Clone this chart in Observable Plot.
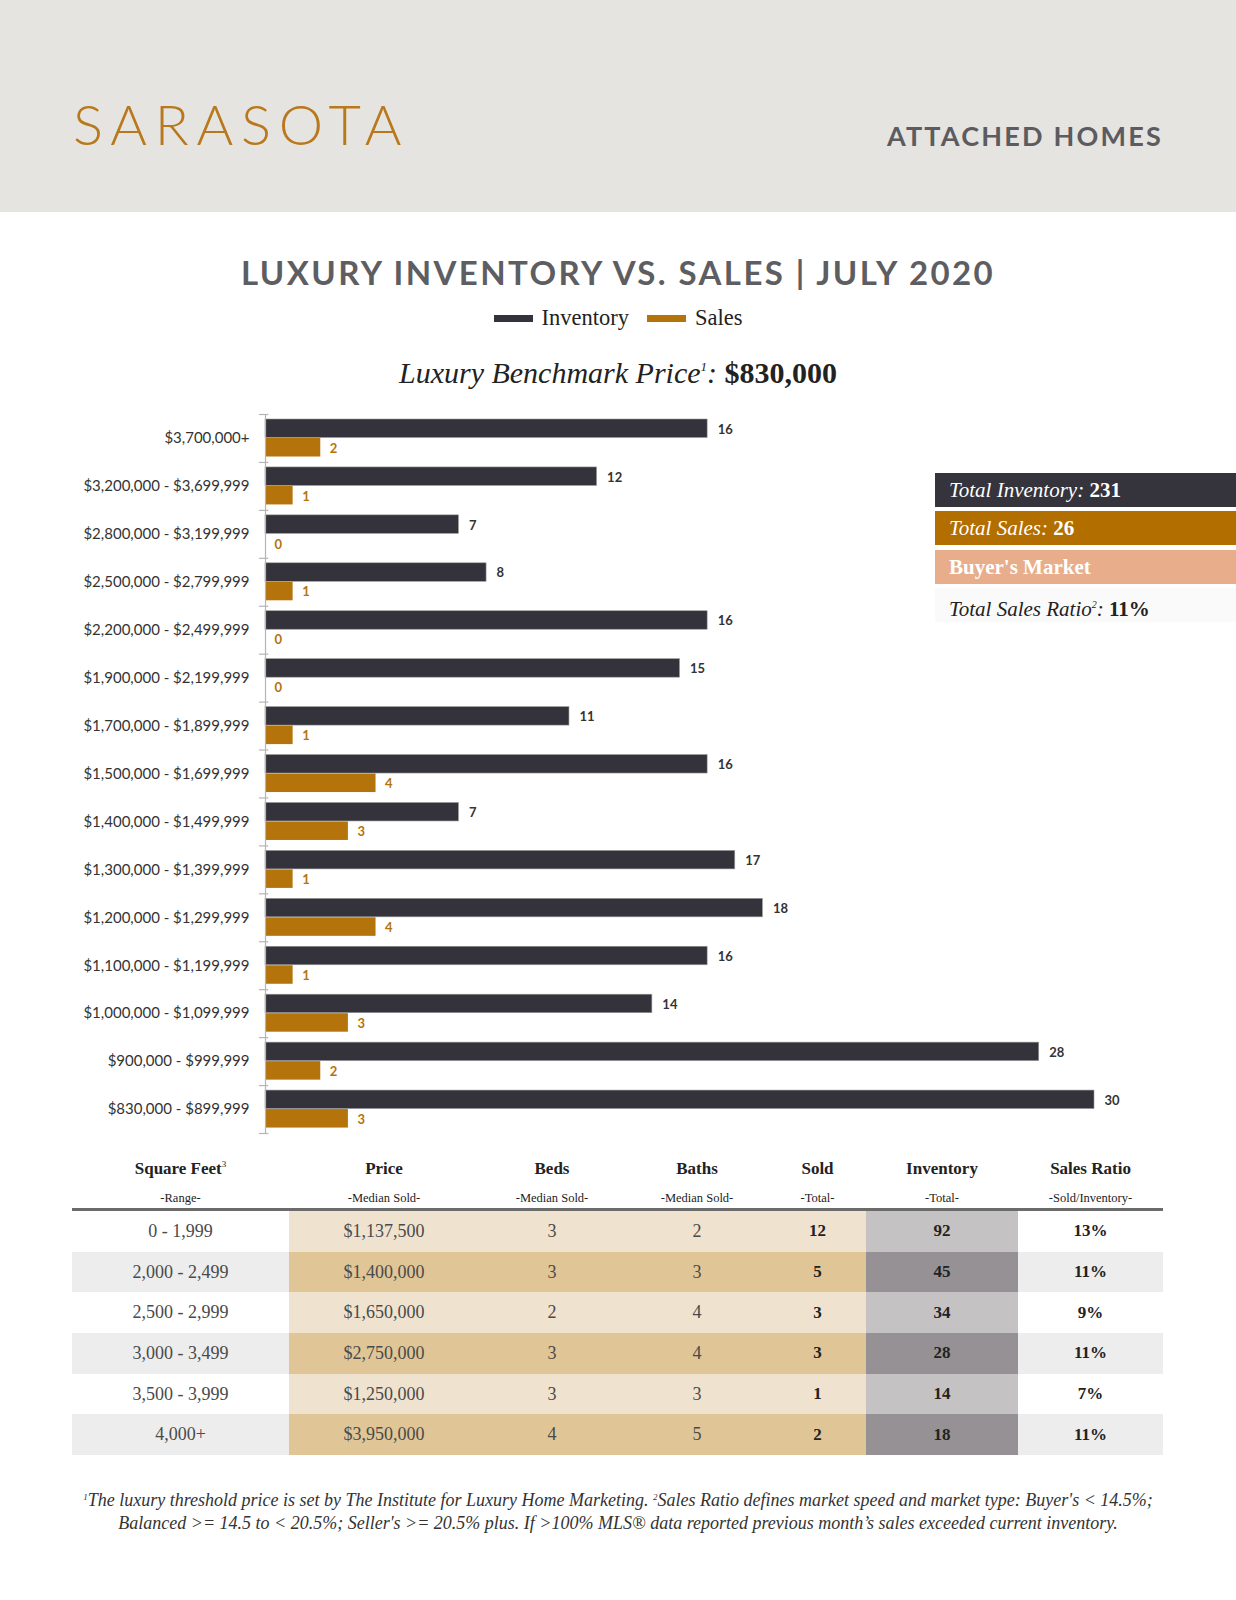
<!DOCTYPE html>
<html>
<head>
<meta charset="utf-8">
<script src="https://cdn.jsdelivr.net/npm/d3@7"></script>
<script src="https://cdn.jsdelivr.net/npm/@observablehq/plot@0.6"></script>
<style>
  body { margin: 0; background: #fff; }
  #page { position: relative; width: 1236px; height: 1600px; overflow: hidden; background: #fff; }
  .abs { position: absolute; }
  #band { left: 0; top: 0; width: 1236px; height: 212px; background: #e5e4e0; }
  #city { left: 73px; top: 96px; font-family: Lato, sans-serif; font-weight: 300; font-size: 56px; letter-spacing: 7.8px; color: #b8781b; line-height: 1; }
  #kind { right: 73px; top: 122px; font-family: Lato, sans-serif; font-weight: 700; font-size: 27px; letter-spacing: 2.2px; color: #5b5b60; line-height: 1; }
  #title { left: 0; width: 1236px; top: 256px; text-align: center; font-family: Lato, sans-serif; font-weight: 700; font-size: 33px; letter-spacing: 2.4px; color: #5d5d62; line-height: 1; }
  #legend { left: 0; width: 1236px; top: 306px; text-align: center; font-family: "Liberation Serif", serif; font-size: 22.5px; color: #222; line-height: 24px; }
  #legend .sw { display: inline-block; width: 39px; height: 7px; vertical-align: middle; margin-right: 9px; position: relative; top: -1px; }
  #legend .item { margin: 0 9px; }
  #sub { left: 0; width: 1236px; top: 358px; text-align: center; font-family: "Liberation Serif", serif; font-style: italic; font-size: 30px; color: #222; line-height: 1; }
  #sub b { font-style: normal; font-weight: 700; }
  #sub sup { font-size: 13px; vertical-align: 12px; }
  #chart { left: 0; top: 400px; }
  .box { left: 935px; width: 301px; height: 34px; font-family: "Liberation Serif", serif; font-size: 21px; line-height: 34px; padding-left: 14px; box-sizing: border-box; }
  .box i { font-style: italic; }
  .box b { font-style: normal; }
  #tbl { left: 72px; top: 1156px; width: 1091px; border-collapse: collapse; font-family: "Liberation Serif", serif; }
  #tbl th { font-weight: 700; font-size: 17px; color: #222; padding: 0; height: 26px; text-align: center; }
  #tbl th.s { font-weight: 400; font-size: 12.5px; height: 24px; vertical-align: bottom; padding: 0 0 2px 0; line-height: 15px; }
  #tbl tr.hr2 th { border-bottom: 3px solid #6b6b6b; }
  #tbl td { height: 40.7px; padding: 0; text-align: center; font-size: 18px; color: #4a4a4a; }
  #tbl td.b { font-weight: 700; color: #222; font-size: 17px; }
  #tbl tr.odd td.w { background: #ffffff; }
  #tbl tr.odd td.t { background: #efe3cf; }
  #tbl tr.odd td.g { background: #c4c2c3; }
  #tbl tr.even td.w { background: #ededed; }
  #tbl tr.even td.t { background: #e0c597; }
  #tbl tr.even td.g { background: #959195; }
  #foot { left: 0; width: 1236px; top: 1486px; text-align: center; font-family: "Liberation Serif", serif; font-style: italic; font-size: 18px; color: #333; line-height: 23px; }
  #foot sup { font-size: 9px; vertical-align: 6px; }
</style>
</head>
<body>
<div id="page">
  <div id="band" class="abs"></div>
  <div id="city" class="abs">SARASOTA</div>
  <div id="kind" class="abs">ATTACHED HOMES</div>
  <div id="title" class="abs">LUXURY INVENTORY VS. SALES | JULY 2020</div>
  <div id="legend" class="abs"></div>
  <div id="sub" class="abs">Luxury Benchmark Price<sup>1</sup>: <b>$830,000</b></div>
  <div id="chart" class="abs"></div>
  <div id="sidebox"></div>
  <table id="tbl" class="abs"></table>
  <div id="foot" class="abs"><sup>1</sup>The luxury threshold price is set by The Institute for Luxury Home Marketing. <sup>2</sup>Sales Ratio defines market speed and market type: Buyer's &lt; 14.5%;<br>Balanced &gt;= 14.5 to &lt; 20.5%; Seller's &gt;= 20.5% plus. If &gt;100% MLS® data reported previous month’s sales exceeded current inventory.</div>
</div>
<script>
// ---- Chart data ----
const categories = [
  "$3,700,000+",
  "$3,200,000 - $3,699,999",
  "$2,800,000 - $3,199,999",
  "$2,500,000 - $2,799,999",
  "$2,200,000 - $2,499,999",
  "$1,900,000 - $2,199,999",
  "$1,700,000 - $1,899,999",
  "$1,500,000 - $1,699,999",
  "$1,400,000 - $1,499,999",
  "$1,300,000 - $1,399,999",
  "$1,200,000 - $1,299,999",
  "$1,100,000 - $1,199,999",
  "$1,000,000 - $1,099,999",
  "$900,000 - $999,999",
  "$830,000 - $899,999"
];
const inventory = [16, 12, 7, 8, 16, 15, 11, 16, 7, 17, 18, 16, 14, 28, 30];
const sales = [2, 1, 0, 1, 0, 0, 1, 4, 3, 1, 4, 1, 3, 2, 3];
const seriesNames = ["Inventory", "Sales"];
const seriesColors = ["#34323a", "#b5730c"];

// ---- Summary ----
const totalInventory = 231;
const totalSales = 26;
const marketType = "Buyer's Market";
const totalSalesRatio = "11%";

// ---- Table data ----
const tableHeads = ["Square Feet", "Price", "Beds", "Baths", "Sold", "Inventory", "Sales Ratio"];
const tableSubs = ["-Range-", "-Median Sold-", "-Median Sold-", "-Median Sold-", "-Total-", "-Total-", "-Sold/Inventory-"];
const sqftRanges = ["0 - 1,999", "2,000 - 2,499", "2,500 - 2,999", "3,000 - 3,499", "3,500 - 3,999", "4,000+"];
const medianPrice = ["$1,137,500", "$1,400,000", "$1,650,000", "$2,750,000", "$1,250,000", "$3,950,000"];
const medianBeds = [3, 3, 2, 3, 3, 4];
const medianBaths = [2, 3, 4, 4, 3, 5];
const soldTotal = [12, 5, 3, 3, 1, 2];
const inventoryTotal = [92, 45, 34, 28, 14, 18];
const salesRatio = ["13%", "11%", "9%", "11%", "7%", "11%"];

// Legend
const legend = document.getElementById("legend");
legend.innerHTML = seriesNames.map((n, i) =>
  `<span class="item"><span class="sw" style="background:${seriesColors[i]}"></span>${n}</span>`).join("");

// Chart
const data = categories.map((c, i) => ({cat: c, inv: inventory[i], sales: sales[i]}));
const H = 745, MT = 14, MB = 12;
const bw = (H - MT - MB) / categories.length;
const chart = Plot.plot({
  width: 1236,
  height: H,
  marginLeft: 265,
  marginRight: 142,
  marginTop: MT,
  marginBottom: MB,
  style: {fontFamily: "Lato, sans-serif", color: "#333", background: "transparent"},
  x: {domain: [0, 30], axis: null},
  y: {domain: categories, padding: 0, round: false, axis: null},
  marks: [
    Plot.barX(data, {y: "cat", x: "inv", fill: seriesColors[0], stroke: "#9a9a9a", strokeWidth: 0.6, insetTop: 5, insetBottom: bw - 23.5}),
    Plot.barX(data, {y: "cat", x: "sales", fill: seriesColors[1], insetTop: 24, insetBottom: bw - 42.5}),
    Plot.text(data, {y: "cat", x: "inv", text: d => String(d.inv), dx: 10, dy: -9, textAnchor: "start", fill: "#333", fontSize: 13, fontWeight: "bold"}),
    Plot.text(data, {y: "cat", x: "sales", text: d => String(d.sales), dx: 9, dy: 10, textAnchor: "start", fill: "#b5730c", fontSize: 13, fontWeight: "bold"}),
    Plot.ruleX([0], {stroke: "#b5b5b5", strokeWidth: 1.2}),
    Plot.ruleY(categories, {y: d => d, x1: -0.22, x2: 0.12, dy: -bw / 2, stroke: "#b5b5b5", strokeWidth: 1.2}),
    Plot.ruleY([categories[categories.length - 1]], {y: d => d, x1: -0.22, x2: 0.12, dy: bw / 2, stroke: "#b5b5b5", strokeWidth: 1.2}),
    Plot.axisY({tickSize: 0, tickPadding: 16, fontSize: 15, fill: "#333", label: null})
  ]
});
document.getElementById("chart").appendChild(chart);

// Side box
const sb = document.getElementById("sidebox");
sb.innerHTML = `
  <div class="abs box" style="top:473px;background:#35333c;color:#fff"><i>Total Inventory:</i> <b>${totalInventory}</b></div>
  <div class="abs box" style="top:511px;background:#b36e00;color:#fff"><i>Total Sales:</i> <b>${totalSales}</b></div>
  <div class="abs box" style="top:550px;background:#e8ad8b;color:#fff;font-weight:700">${marketType}</div>
  <div class="abs box" style="top:588px;background:#fafafa;color:#222"><i>Total Sales Ratio<sup style="font-size:10px">2</sup>:</i> <b>${totalSalesRatio}</b></div>`;

// Table
const widths = [217, 190, 146, 144, 97, 152, 145];
const tbl = document.getElementById("tbl");
let html = "<colgroup>" + widths.map(w => `<col style="width:${w}px">`).join("") + "</colgroup>";
html += "<tr>" + tableHeads.map((h, i) => `<th>${h}${i === 0 ? '<sup style="font-size:9px;font-weight:400">3</sup>' : ''}</th>`).join("") + "</tr>";
html += '<tr class="hr2">' + tableSubs.map(s => `<th class="s">${s}</th>`).join("") + "</tr>";
sqftRanges.forEach((r, i) => {
  const cls = i % 2 === 0 ? "odd" : "even";
  html += `<tr class="${cls}">
    <td class="w">${r}</td>
    <td class="t">${medianPrice[i]}</td>
    <td class="t">${medianBeds[i]}</td>
    <td class="t">${medianBaths[i]}</td>
    <td class="t b">${soldTotal[i]}</td>
    <td class="g b">${inventoryTotal[i]}</td>
    <td class="w b">${salesRatio[i]}</td>
  </tr>`;
});
tbl.innerHTML = html;
</script>
</body>
</html>
